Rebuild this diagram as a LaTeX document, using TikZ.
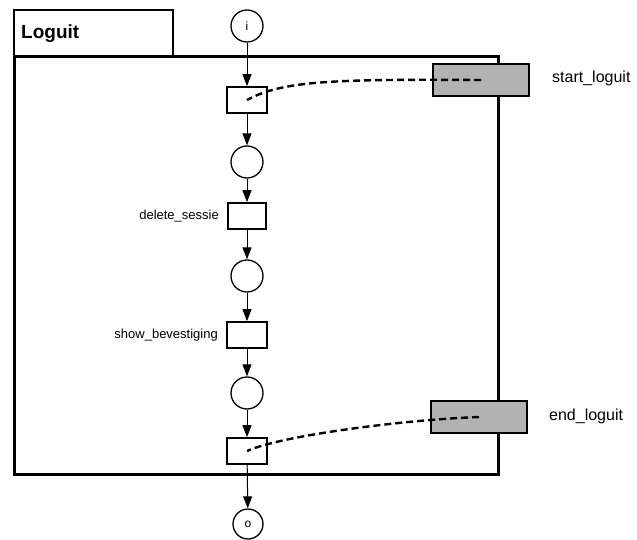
\documentclass[tikz,border=0pt]{standalone}
\usepackage{fontspec}
\setmainfont{Liberation Sans}
\usetikzlibrary{arrows.meta}
\definecolor{boxgray}{RGB}{178,178,178}
\begin{document}
\begin{tikzpicture}[x=1pt,y=-1pt,
  place/.style={draw, circle, line width=1.3pt, minimum size=32pt, inner sep=0pt},
  trans/.style={draw, rectangle, line width=1.7pt, minimum width=40pt, minimum height=26pt, inner sep=0pt},
  graybox/.style={draw, line width=2.2pt, fill=boxgray, minimum width=96pt, minimum height=32pt, inner sep=0pt},
  arc/.style={-{Triangle[length=12pt,width=9pt]}, line width=1pt},
  link/.style={dash pattern=on 7pt off 4pt, line width=2.4pt},
  frameline/.style={line width=3pt},
  lbl/.style={font=\fontsize{13}{15}\selectfont, anchor=east, inner sep=0pt},
  rlbl/.style={font=\fontsize{16}{18}\selectfont, anchor=west, inner sep=0pt}]
\useasboundingbox (0,0) rectangle (637,540);
% frame and tab
\draw[line width=2.6pt] (14,57) |- (173,10) -- (173,57);
\draw[frameline] (14,57) rectangle (498,474);
\node[anchor=west, font=\fontsize{19}{21}\selectfont\bfseries, inner sep=0pt] (title) at (21,34) {Loguit};
% gray boxes
\node[graybox] (sb) at (481,80) {};
\node[graybox] (eb) at (479,417) {};
\node[rlbl] (sl) at (552,78) {start\_loguit};
\node[rlbl] (el) at (549,416) {end\_loguit};
% places and transitions
\node[place, font=\fontsize{12}{14}\selectfont] (pi) at (247,26) {i};
\node[trans] (t1) at (247,100) {};
\node[place] (p2) at (247,162) {};
\node[trans, minimum width=38pt] (t2) at (247,216) {};
\node[place] (p3) at (247,276) {};
\node[trans] (t3) at (247,335) {};
\node[place] (p4) at (247,393) {};
\node[trans] (t4) at (247,451) {};
\node[place, minimum size=30pt, font=\fontsize{12}{14}\selectfont] (po) at (248,524) {o};
\node[lbl] (l2) at (219,216) {delete\_sessie};
\node[lbl] (l3) at (218,335) {show\_bevestiging};
% arcs
\draw[arc] (pi) -- (t1);
\draw[arc] (t1) -- (p2);
\draw[arc] (p2) -- (t2);
\draw[arc] (t2) -- (p3);
\draw[arc] (p3) -- (t3);
\draw[arc] (t3) -- (p4);
\draw[arc] (p4) -- (t4);
\draw[arc] (t4) -- (po);
% dashed links
\draw[link] (sb.center) .. controls (330,79) and (282,81) .. (t1.center);
\draw[link] (eb.center) .. controls (400,420) and (280,436) .. (t4.center);
\end{tikzpicture}
\end{document}
